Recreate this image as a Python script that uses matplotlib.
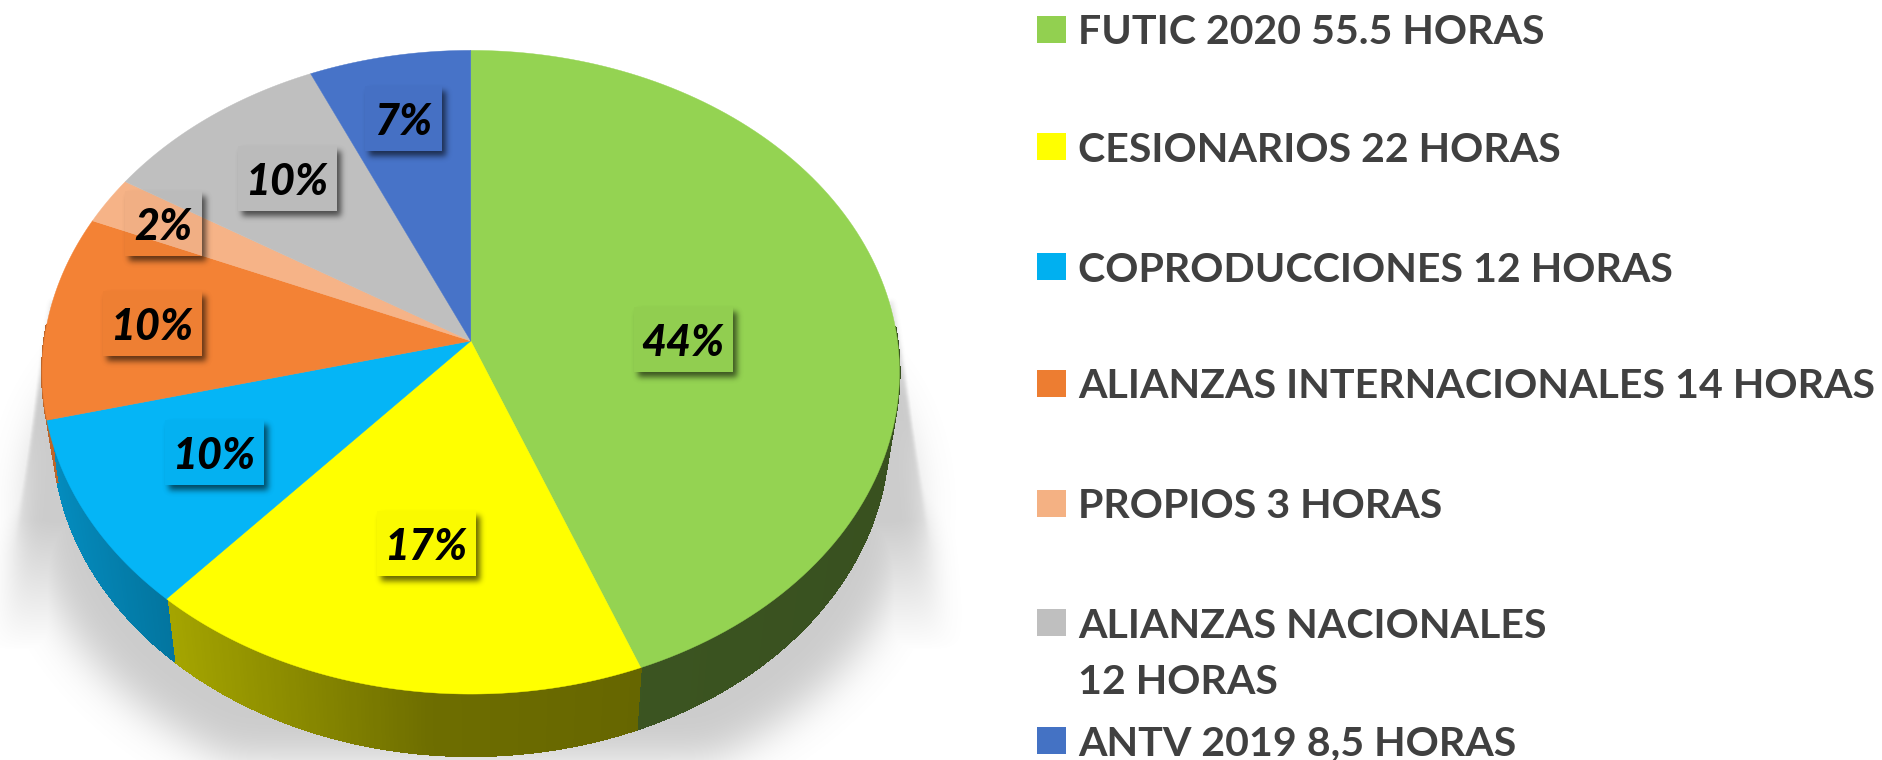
import numpy as np
import matplotlib
matplotlib.use('Agg')
import matplotlib.pyplot as plt
from matplotlib.collections import PolyCollection
from matplotlib.patches import Polygon, Rectangle
from matplotlib.path import Path

# data
categories = ['FUTIC 2020 55.5 HORAS', 'CESIONARIOS 22 HORAS', 'COPRODUCCIONES 12 HORAS',
              'ALIANZAS INTERNACIONALES 14 HORAS', 'PROPIOS 3 HORAS',
              'ALIANZAS NACIONALES\n12 HORAS', 'ANTV 2019 8,5 HORAS']
# slice sizes, they do not follow the hours exactly
slice_percent = [44.1, 17.4, 9.6, 10.3, 2.4, 9.5, 6.7]
percent_labels = ['44%', '17%', '10%', '10%', '2%', '10%', '7%']
pie_colors = ['#94D352', '#FFFF00', '#05B5F6', '#F38235', '#F6B387', '#BFBFBF', '#4773C8']
legend_colors = ['#92D050', '#FFFF00', '#00B0F0', '#ED7D31', '#F4B183', '#BFBFBF', '#4472C4']

# layout, in pixels of the picture
W, H = 1883, 760
CX, CY = 470.8, 341.0
RX, RY, PERSP = 426.7, 318.8, 0.097
DEPTH, SHRINK = 62.0, 0.975
label_centers = [(683, 339), (426, 543), (214, 452), (152, 323), (163, 223), (287, 178), (403, 118)]
legend_rows = [30, 147, 267, 384, 504, 623, 741]

plt.rcParams['font.family'] = ['Lato', 'DejaVu Sans']


def project(angle):
    # angle in degrees, clockwise from the top of the disc
    t = np.radians(angle)
    u, v = np.sin(t), np.cos(t)
    w = 1 + PERSP * v
    return CX + RX * u / w, CY - RY * v / w


def blur(a, sigma):
    n = int(sigma * 3)
    g = np.exp(-0.5 * (np.arange(-n, n + 1) / sigma) ** 2)
    g /= g.sum()
    a = np.apply_along_axis(lambda r: np.convolve(r, g, mode='same'), 0, a)
    return np.apply_along_axis(lambda r: np.convolve(r, g, mode='same'), 1, a)


def wall_shade(x):
    return np.interp(x, [50, 170, 430, 640, 900], [0.78, 0.65, 0.43, 0.40, 0.38])


fig = plt.figure(figsize=(W / 100, H / 100), dpi=100)
ax = fig.add_axes([0, 0, 1, 1])
ax.set_xlim(0, W)
ax.set_ylim(H, 0)
ax.axis('off')

yy, xx = np.mgrid[0:H, 0:W]

# soft shadow under the pie
t = np.linspace(0, 2 * np.pi, 200)
blob = np.column_stack([471 + 440 * np.cos(t), 505 + 305 * np.sin(t)])
pts = np.column_stack([xx.ravel() + 0.5, yy.ravel() + 0.5])
mask = Path(blob).contains_points(pts).reshape(H, W).astype(float)
soft = blur(mask, 20)
edge_l = 44 - (yy - 340) * 30 / 210.0
edge_r = 899 + (yy - 340) * 31 / 210.0
trap = ((xx > edge_l) & (xx < edge_r) & (yy > 300) & (yy < 700)).astype(float)
mix = np.clip((yy - 420) / 130.0, 0, 1)
trap = (blur(trap, 2) * (1 - mix) + blur(trap, 12) * mix) * np.clip((650 - yy) / 130.0, 0, 1)
shade = np.maximum(soft, trap) * np.clip((yy - 300) / 160.0 + 0.4, 0, 1)
rgba = np.zeros((H, W, 4))
rgba[..., :3] = 0.5
rgba[..., 3] = shade * 0.4
ax.imshow(rgba, extent=(0, W, H, 0), aspect='auto', zorder=1, interpolation='nearest')

# wedge angles come from the slice sizes
fracs = np.array(slice_percent) / np.sum(slice_percent)
edges = np.concatenate([[0], np.cumsum(fracs)]) * 360

# side wall, shaded left to right, only the front part shows
for i, col in enumerate(pie_colors):
    ang = np.arange(edges[i], edges[i + 1] + 0.5, 0.5)
    x, y = project(ang)
    xb = CX + (x - CX) * SHRINK
    yb = y + DEPTH
    quads, cols = [], []
    rgb = np.array(matplotlib.colors.to_rgb(col))
    for j in range(len(ang) - 1):
        if np.cos(np.radians(ang[j])) > 0.05:
            continue
        quads.append([(x[j], y[j]), (x[j + 1], y[j + 1]), (xb[j + 1], yb[j + 1]), (xb[j], yb[j])])
        cols.append(rgb * wall_shade((xb[j] + xb[j + 1]) / 2))
    if quads:
        ax.add_collection(PolyCollection(quads, facecolors=cols, edgecolors=cols, linewidths=0.8,
                                         antialiaseds=False, zorder=2))

# top of the pie
for i, col in enumerate(pie_colors):
    ang = np.linspace(edges[i], edges[i + 1], 120)
    x, y = project(ang)
    verts = np.column_stack([np.r_[CX, x], np.r_[CY, y]])
    ax.add_patch(Polygon(verts, closed=True, facecolor=col, edgecolor=col, linewidth=0.3, zorder=3))

# data labels: the boxes are see-through, only their drop shadow shows
box_alpha = np.zeros((H, W))
for lab, (bx, by) in zip(percent_labels, label_centers):
    bw = 77 if len(lab) == 2 else 100
    inside = (np.abs(xx - bx) < bw / 2) & (np.abs(yy - by) < 33)
    drop = (np.abs(xx - bx - 4) < bw / 2) & (np.abs(yy - by - 5) < 33)
    drop = blur(drop.astype(float), 3.0)
    box_alpha = np.maximum(box_alpha, drop * (~inside) * 0.6)
    box_alpha = np.maximum(box_alpha, inside * 0.02)
    ax.text(bx, by + 4, lab, ha='center', va='center', fontsize=31, fontweight='black',
            fontstyle='italic', color='black', zorder=6)
rgba = np.zeros((H, W, 4))
rgba[..., 3] = box_alpha
ax.imshow(rgba, extent=(0, W, H, 0), aspect='auto', zorder=4, interpolation='nearest')

# legend
for name, col, row in zip(categories, legend_colors, legend_rows):
    ax.add_patch(Rectangle((1037, row - 14), 29, 27, facecolor=col, edgecolor='none', zorder=5))
    for k, part in enumerate(name.split('\n')):
        ax.text(1078, row + 3 + k * 57, part, ha='left', va='center', fontsize=29.6, fontweight='bold',
                color='#404040', zorder=6)

ax.set_xlim(0, W)
ax.set_ylim(H, 0)
fig.savefig('out.png', dpi=100)
